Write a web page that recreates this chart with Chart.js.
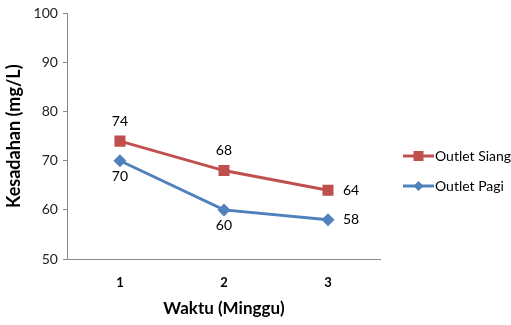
<!DOCTYPE html>
<html>
<head>
<meta charset="utf-8">
<script src="https://cdn.jsdelivr.net/npm/chart.js@4.4.1/dist/chart.umd.min.js"></script>
<style>
  html, body { margin: 0; padding: 0; background: #fff; }
  #wrap { width: 511px; height: 325px; position: relative; }
</style>
</head>
<body>
<div id="wrap"><canvas id="c" width="511" height="325"></canvas></div>
<script>
// Week numbers on the x axis
const weeks = ['1', '2', '3'];
// Hardness (mg/L) per outlet sampling time
const outletSiang = [74, 68, 64];
const outletPagi = [70, 60, 58];
const seriesNames = ['Outlet Siang', 'Outlet Pagi'];
// Where each series puts its value labels, per point
const siangLabelPos = ['above', 'above', 'right'];
const pagiLabelPos = ['below', 'below', 'right'];

const RED = '#C0504D';
const BLUE = '#4F81BD';
const FONT = 'Lato, "Open Sans", sans-serif';

// Value labels next to each marker
const valueLabels = {
  id: 'valueLabels',
  afterDatasetsDraw(chart) {
    const ctx = chart.ctx;
    ctx.save();
    ctx.font = '14px ' + FONT;
    ctx.fillStyle = '#000';
    chart.data.datasets.forEach((ds, i) => {
      const meta = chart.getDatasetMeta(i);
      meta.data.forEach((pt, j) => {
        const pos = ds.labelPos[j];
        let x = pt.x, y = pt.y;
        ctx.textBaseline = 'middle';
        if (pos === 'above') { ctx.textAlign = 'center'; y -= 20; }
        else if (pos === 'below') { ctx.textAlign = 'center'; y += 16; }
        else { ctx.textAlign = 'left'; x += 15; }
        ctx.fillText(String(ds.data[j]), x, y);
      });
    });
    ctx.restore();
  }
};

// Legend on the right: a line sample with its marker, then the name
const sideLegend = {
  id: 'sideLegend',
  afterDraw(chart) {
    const ctx = chart.ctx;
    ctx.save();
    const x0 = 403, len = 31;
    const rows = [156, 186];
    chart.data.datasets.forEach((ds, i) => {
      const y = rows[i];
      ctx.strokeStyle = ds.borderColor;
      ctx.lineWidth = 3;
      ctx.beginPath();
      ctx.moveTo(x0, y); ctx.lineTo(x0 + len, y); ctx.stroke();
      ctx.fillStyle = ds.borderColor;
      const cx = x0 + len / 2;
      if (ds.pointStyle === 'rect') {
        ctx.fillRect(cx - 5, y - 5, 10, 10);
      } else {
        ctx.beginPath();
        ctx.moveTo(cx, y - 5); ctx.lineTo(cx + 5, y); ctx.lineTo(cx, y + 5); ctx.lineTo(cx - 5, y);
        ctx.closePath(); ctx.fill();
      }
      ctx.fillStyle = '#000';
      ctx.font = '14px ' + FONT;
      ctx.textAlign = 'left';
      ctx.textBaseline = 'middle';
      ctx.fillText(ds.label, x0 + len + 1, y);
    });
    ctx.restore();
  }
};

new Chart(document.getElementById('c'), {
  type: 'line',
  data: {
    labels: weeks,
    datasets: [
      {
        label: seriesNames[0], data: outletSiang, labelPos: siangLabelPos,
        borderColor: RED, backgroundColor: RED, borderWidth: 3,
        pointStyle: 'rect', pointRadius: 7.8, pointHoverRadius: 7.8, pointBorderWidth: 0,
        tension: 0
      },
      {
        label: seriesNames[1], data: outletPagi, labelPos: pagiLabelPos,
        borderColor: BLUE, backgroundColor: BLUE, borderWidth: 3,
        pointStyle: 'rectRot', pointRadius: 6.5, pointHoverRadius: 6.5, pointBorderWidth: 0,
        tension: 0
      }
    ]
  },
  options: {
    responsive: false,
    animation: false,
    devicePixelRatio: 1,
    layout: { padding: { top: 8, right: 131, left: 3, bottom: 2 } },
    plugins: { legend: { display: false }, tooltip: { enabled: false } },
    scales: {
      x: {
        offset: true,
        grid: { display: false },
        border: { color: '#888', width: 1 },
        ticks: { color: '#000', font: { family: FONT, size: 13, weight: 'bold' }, padding: 8 },
        title: { display: true, text: 'Waktu (Minggu)', color: '#000', font: { family: FONT, size: 17, weight: 'bold' }, padding: { top: 0, bottom: 4 } }
      },
      y: {
        min: 50, max: 100,
        grid: { drawOnChartArea: false, drawTicks: true, tickLength: 5, color: '#888' },
        border: { color: '#888', width: 1 },
        ticks: { stepSize: 10, color: '#222', font: { family: FONT, size: 14 }, padding: 5 },
        title: { display: true, text: 'Kesadahan (mg/L)', color: '#000', font: { family: FONT, size: 18, weight: 'bold' }, padding: { top: 0, bottom: 4 } }
      }
    }
  },
  plugins: [valueLabels, sideLegend]
});
</script>
</body>
</html>
